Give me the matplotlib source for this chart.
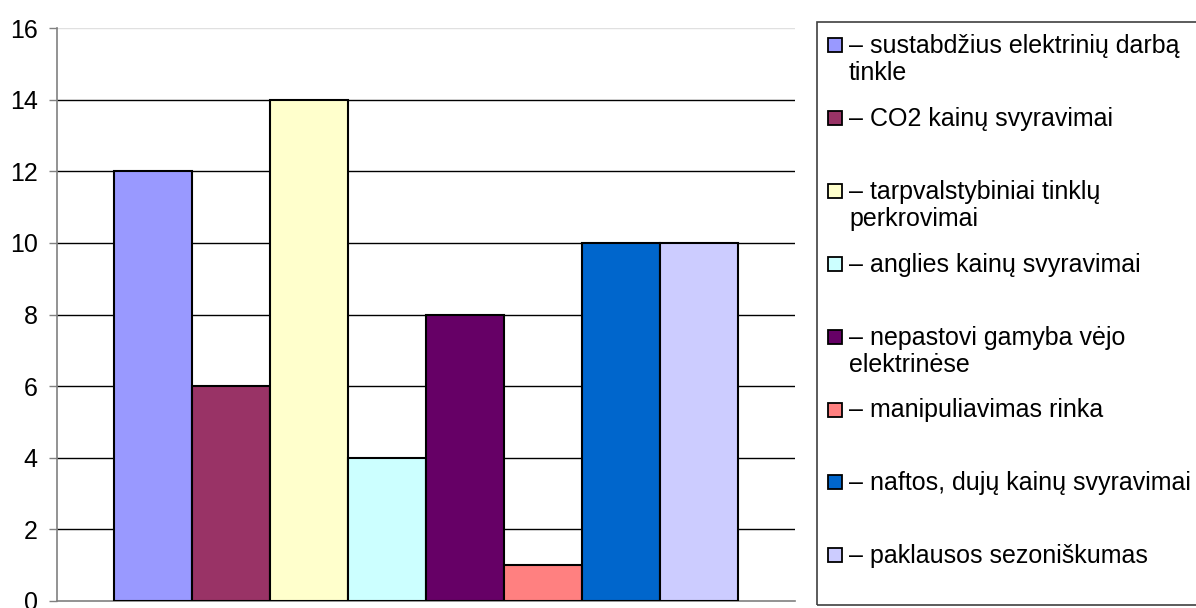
import matplotlib
matplotlib.use('Agg')
import matplotlib.pyplot as plt
from matplotlib.patches import Rectangle
import numpy as np

plt.rcParams['font.family'] = ['Liberation Sans', 'DejaVu Sans']

# survey answers: number of mentions per risk factor
labels = ['– sustabdžius elektrinių darbą\ntinkle',
          '– CO2 kainų svyravimai',
          '– tarpvalstybiniai tinklų\nperkrovimai',
          '– anglies kainų svyravimai',
          '– nepastovi gamyba vėjo\nelektrinėse',
          '– manipuliavimas rinka',
          '– naftos, dujų kainų svyravimai',
          '– paklausos sezoniškumas']
values = [12, 6, 14, 4, 8, 1, 10, 10]
colors = ['#9999FF', '#993366', '#FFFFCC', '#CCFFFF',
          '#660066', '#FF8080', '#0066CC', '#CCCCFF']
yticks = [0, 2, 4, 6, 8, 10, 12, 14, 16]

W, H = 1196, 608
fig = plt.figure(figsize=(W/100, H/100), dpi=100)
ax = fig.add_axes([57/W, 7/H, 738/W, 573/H])

x = np.arange(len(values)) - 3.5
ax.bar(x, values, width=1.0, color=colors, edgecolor='black', linewidth=1.5, zorder=3)

half = 738/77.9/2
ax.set_xlim(-half, half)
ax.set_ylim(0, 16)
ax.set_yticks(yticks)
ax.set_xticks([])
for t in yticks[1:-1]:
    ax.axhline(t, color='black', linewidth=1, zorder=1)
ax.axhline(16, color='#e0e0e0', linewidth=1, zorder=1)

for s in ['top', 'right']:
    ax.spines[s].set_visible(False)
ax.spines['left'].set_color('#808080')
ax.spines['bottom'].set_color('#808080')
ax.spines['left'].set_linewidth(1.2)
ax.spines['bottom'].set_linewidth(1.2)
ax.tick_params(axis='y', direction='out', length=6, width=1, color='#808080',
               labelsize=18, pad=8)

# legend box drawn by hand in pixel coordinates
fig.patches.append(Rectangle((817/W, 3/H), 400/W, 583/H, transform=fig.transFigure,
                             facecolor='none', edgecolor='#404040', linewidth=1.2))
for i, (lab, c) in enumerate(zip(labels, colors)):
    yc = 45 + 72.9*i
    fig.patches.append(Rectangle((828/W, 1 - (yc + 7)/H), 14/W, 14/H,
                                 transform=fig.transFigure, facecolor=c,
                                 edgecolor='black', linewidth=1.3))
    for k, line in enumerate(lab.split('\n')):
        fig.text(849/W, 1 - (yc + 1 + 27*k)/H, line, fontsize=18,
                 ha='left', va='center')

fig.savefig('out.png', dpi=100)
